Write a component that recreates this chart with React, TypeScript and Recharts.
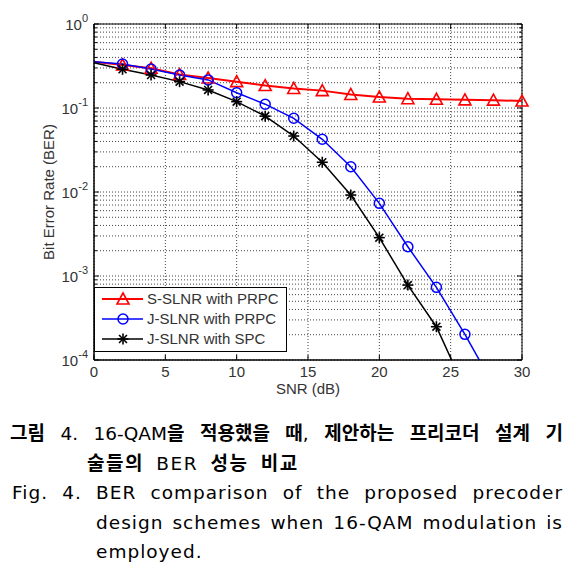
import React from "react";
import {
  LineChart,
  Line,
  XAxis,
  YAxis,
  CartesianGrid,
  Legend,
  ReferenceArea,
} from "recharts";

// SNR points (dB)
const SNR = [0, 2, 4, 6, 8, 10, 12, 14, 16, 18, 20, 22, 24, 26, 28, 30];

// BER
const S_SLNR_PRPC = [
  0.355, 0.325, 0.297, 0.25, 0.228, 0.206, 0.185, 0.171, 0.161, 0.145, 0.135,
  0.129, 0.127, 0.125, 0.124, 0.121,
];
const J_SLNR_PRPC = [
  0.355, 0.334, 0.291, 0.247, 0.216, 0.152, 0.111, 0.0754, 0.0424, 0.02,
  0.00733, 0.00223, 0.000733, 0.000202, 0.00005, null,
];
const J_SLNR_SPC = [
  0.345, 0.289, 0.247, 0.206, 0.164, 0.119, 0.08, 0.0464, 0.0226, 0.0092,
  0.00286, 0.00078, 0.000249, 0.000045, null, null,
];

const X_TICKS = [0, 5, 10, 15, 20, 25, 30];
const DECADES = [1e-4, 1e-3, 1e-2, 1e-1];
const MULTS = [1, 2, 3, 4, 5, 6, 7, 8, 9];
const Y_TICKS = [...DECADES.flatMap((d) => MULTS.map((m) => m * d)), 1];

const SERIES = [
  { key: "s", name: "S-SLNR with PRPC", color: "#ff0000", kind: "tri", width: 2 },
  { key: "jp", name: "J-SLNR with PRPC", color: "#0000ff", kind: "circ", width: 1.5 },
  { key: "js", name: "J-SLNR with SPC", color: "#000000", kind: "star", width: 1.5 },
];

const data = SNR.map((snr, i) => ({
  snr,
  s: S_SLNR_PRPC[i],
  jp: J_SLNR_PRPC[i],
  js: J_SLNR_SPC[i],
}));

const W = 586;
const CHART_H = 400;
const MARGIN = { top: 24, right: 64, bottom: 4, left: 0 };
const Y_AXIS_W = 94;
const X_AXIS_H = 36;
const PLOT_LEFT = MARGIN.left + Y_AXIS_W;
const PLOT_RIGHT = W - MARGIN.right;
const PLOT_TOP = MARGIN.top;
const PLOT_BOTTOM = CHART_H - MARGIN.bottom - X_AXIS_H;
const TICK_MARGIN = 6;

const FONT = '"Liberation Sans", Arial, sans-serif';
const TXT = "#333";
const FS = 15;

function Marker({ kind, cx, cy, color }: { kind: string; cx: number; cy: number; color: string }) {
  if (kind === "tri") {
    return (
      <polygon
        points={`${cx},${cy - 6} ${cx - 6},${cy + 5} ${cx + 6},${cy + 5}`}
        fill="none"
        stroke={color}
        strokeWidth={1.6}
      />
    );
  }
  if (kind === "circ") {
    return <circle cx={cx} cy={cy} r={5} fill="none" stroke={color} strokeWidth={1.5} />;
  }
  const r = 5.5;
  const d = r * 0.72;
  return (
    <g stroke={color} strokeWidth={1.6}>
      <line x1={cx - r} y1={cy} x2={cx + r} y2={cy} />
      <line x1={cx} y1={cy - r} x2={cx} y2={cy + r} />
      <line x1={cx - d} y1={cy - d} x2={cx + d} y2={cy + d} />
      <line x1={cx - d} y1={cy + d} x2={cx + d} y2={cy - d} />
    </g>
  );
}

function makeDot(kind: string, color: string) {
  return (p: any) => {
    const { cx, cy, index, value } = p;
    if (index === 0 || cx == null || cy == null || value == null) return <g key={`d-${index}`} />;
    return (
      <g key={`d-${index}`}>
        <Marker kind={kind} cx={cx} cy={cy} color={color} />
      </g>
    );
  };
}

function YTick(props: any) {
  const { x, y, payload } = props;
  const v = payload.value;
  const lg = Math.log10(v);
  const exp = Math.round(lg);
  const major = Math.abs(lg - exp) < 1e-6;
  const left = x + TICK_MARGIN;
  const len = major ? 5 : 3;
  return (
    <g>
      <line x1={left} x2={left + len} y1={y} y2={y} stroke="#000" />
      <line x1={PLOT_RIGHT - len} x2={PLOT_RIGHT} y1={y} y2={y} stroke="#000" />
      {major && (
        <text x={x} y={y + 6} textAnchor="end" fontFamily={FONT} fontSize={FS} fill={TXT}>
          10
          <tspan dy={-8} fontSize={11}>
            {exp}
          </tspan>
        </text>
      )}
    </g>
  );
}

function XTick(props: any) {
  const { x, y, payload } = props;
  return (
    <g>
      <line x1={x} x2={x} y1={PLOT_BOTTOM} y2={PLOT_BOTTOM - 5} stroke="#000" />
      <line x1={x} x2={x} y1={PLOT_TOP} y2={PLOT_TOP + 5} stroke="#000" />
      <text x={x} y={y + 13} textAnchor="middle" fontFamily={FONT} fontSize={FS} fill={TXT}>
        {payload.value}
      </text>
    </g>
  );
}

function YLabel(props: any) {
  const vb = props.viewBox || {};
  const cx = (vb.x || 0) + 48;
  const cy = (vb.y || 0) + (vb.height || 0) / 2;
  return (
    <text
      x={cx}
      y={cy}
      transform={`rotate(-90, ${cx}, ${cy})`}
      textAnchor="middle"
      dominantBaseline="central"
      fontFamily={FONT}
      fontSize={FS}
      fill={TXT}
    >
      Bit Error Rate (BER)
    </text>
  );
}

function LegendBox() {
  return (
    <div
      style={{
        width: 193,
        height: 65,
        boxSizing: "border-box",
        border: "1px solid #000",
        background: "#fff",
      }}
    >
      <svg width={191} height={63}>
        {SERIES.map((s, i) => {
          const cy = 11 + i * 20;
          return (
            <g key={s.key}>
              <line x1={7} x2={48} y1={cy} y2={cy} stroke={s.color} strokeWidth={s.width} />
              <Marker kind={s.kind} cx={28} cy={cy} color={s.color} />
              <text x={52} y={cy + 5} fontFamily={FONT} fontSize={FS} fill={TXT}>
                {s.name}
              </text>
            </g>
          );
        })}
      </svg>
    </div>
  );
}

const CAPTION: React.CSSProperties = {
  position: "absolute",
  fontFamily: '"DejaVu Sans", "Noto Sans CJK KR", sans-serif',
  fontSize: 18.5,
  lineHeight: "30px",
  color: "#000",
  whiteSpace: "normal",
  letterSpacing: 1,
};

const JUSTIFY: React.CSSProperties = { textAlign: "justify", textAlignLast: "justify" } as any;
const KO: React.CSSProperties = { fontFamily: '"Noto Sans CJK KR", sans-serif', fontWeight: 700, fontSize: 19 };

export default function App() {
  return (
    <div style={{ position: "absolute", left: 0, top: 0, width: W, height: 568, background: "#fff" }}>
      <LineChart width={W} height={CHART_H} data={data} margin={MARGIN}>
        <CartesianGrid stroke="#444" strokeDasharray="1 2" strokeWidth={1} />
        <XAxis
          dataKey="snr"
          type="number"
          domain={[0, 30]}
          ticks={X_TICKS}
          interval={0}
          height={X_AXIS_H}
          tickSize={0}
          tickMargin={4}
          tick={<XTick />}
          axisLine={{ stroke: "#000" }}
          tickLine={false}
          label={{
            value: "SNR (dB)",
            position: "insideBottom",
            offset: 2,
            style: { fontFamily: FONT, fontSize: FS, fill: TXT },
          }}
        />
        <YAxis
          type="number"
          scale="log"
          domain={[1e-4, 1]}
          allowDataOverflow
          ticks={Y_TICKS}
          interval={0}
          width={Y_AXIS_W}
          tickSize={0}
          tickMargin={TICK_MARGIN}
          tick={<YTick />}
          axisLine={{ stroke: "#000" }}
          tickLine={false}
          label={<YLabel />}
        />
        <ReferenceArea x1={0} x2={30} y1={1e-4} y2={1} fill="none" stroke="#000" strokeWidth={1} ifOverflow="visible" />
        {SERIES.map((s) => (
          <Line
            key={s.key}
            dataKey={s.key}
            name={s.name}
            stroke={s.color}
            strokeWidth={s.width}
            type="linear"
            dot={makeDot(s.kind, s.color)}
            activeDot={false}
            isAnimationActive={false}
          />
        ))}
        <Legend
          layout="vertical"
          align="center"
          verticalAlign="middle"
          content={<LegendBox />}
          wrapperStyle={{ left: PLOT_LEFT, top: 287, width: 193, height: 65 }}
        />
      </LineChart>

      <div style={{ ...CAPTION, ...JUSTIFY, left: 10, top: 417, width: 553, letterSpacing: 0 }}>
        <span style={KO}>그림</span> 4. 16-QAM<span style={KO}>을</span> <span style={KO}>적용했을</span>{" "}
        <span style={KO}>때</span>, <span style={KO}>제안하는</span> <span style={KO}>프리코더</span>{" "}
        <span style={KO}>설계</span> <span style={KO}>기</span>
      </div>
      <div style={{ ...CAPTION, left: 87, top: 447, letterSpacing: 1.5, wordSpacing: 5 }}>
        <span style={KO}>술들의</span> BER <span style={KO}>성능</span> <span style={KO}>비교</span>
      </div>
      <div style={{ ...CAPTION, ...JUSTIFY, left: 12, top: 478, width: 551 }}>
        Fig. 4. BER comparison of the proposed precoder
      </div>
      <div style={{ ...CAPTION, ...JUSTIFY, left: 96, top: 508, width: 467 }}>
        design schemes when 16-QAM modulation is
      </div>
      <div style={{ ...CAPTION, left: 96, top: 537 }}>employed.</div>
    </div>
  );
}
